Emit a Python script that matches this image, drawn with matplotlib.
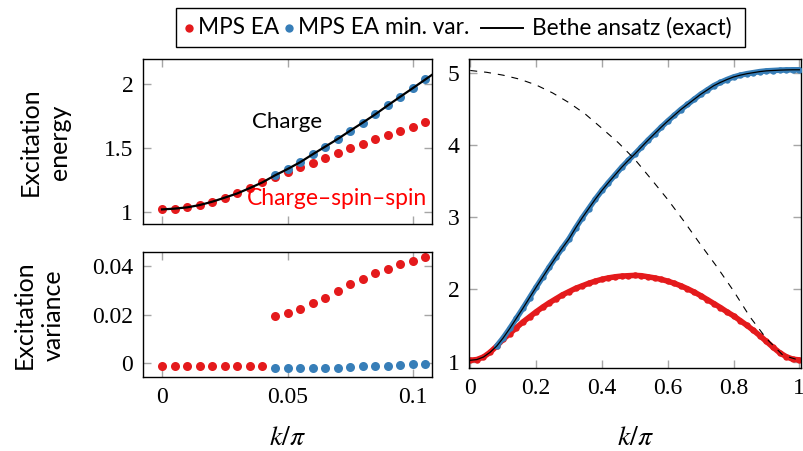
import matplotlib
matplotlib.use('Agg')
from matplotlib import pyplot as plt
from matplotlib.lines import Line2D
from matplotlib.patches import Rectangle

plt.rcParams['font.family'] = ['Lato', 'DejaVu Sans']
plt.rcParams['mathtext.fontset'] = 'stix'
plt.rcParams['lines.scale_dashes'] = False

RED = '#e41a1c'
BLUE = '#377eb8'
TICK_FONT = 'Liberation Serif'

# ---- zoomed panels (left), k/pi = 0 ... 0.105 in steps of 0.005
k_zoom = [0.000, 0.005, 0.010, 0.015, 0.020, 0.025, 0.030, 0.035, 0.040, 0.045, 0.050,
          0.055, 0.060, 0.065, 0.070, 0.075, 0.080, 0.085, 0.090, 0.095, 0.100, 0.105]
k_zoom_minvar = [0.045, 0.050, 0.055, 0.060, 0.065, 0.070, 0.075, 0.080, 0.085,
                 0.090, 0.095, 0.100, 0.105]
energy_ea = [1.023, 1.029, 1.039, 1.057, 1.083, 1.115, 1.148, 1.190, 1.234, 1.276, 1.313,
             1.352, 1.388, 1.422, 1.461, 1.500, 1.534, 1.570, 1.604, 1.638, 1.669, 1.703]
energy_minvar = [1.289, 1.338, 1.391, 1.453, 1.513, 1.573, 1.638, 1.701, 1.766,
                 1.836, 1.904, 1.971, 2.039]
k_bethe_zoom = [0.000, 0.005, 0.010, 0.015, 0.020, 0.025, 0.030, 0.035, 0.040, 0.045,
                0.050, 0.055, 0.060, 0.065, 0.070, 0.075, 0.080, 0.085, 0.090, 0.095,
                0.100, 0.105, 0.110]
bethe_zoom = [1.023, 1.029, 1.039, 1.057, 1.083, 1.115, 1.148, 1.190, 1.234, 1.289,
              1.338, 1.391, 1.453, 1.513, 1.573, 1.638, 1.701, 1.766, 1.836, 1.904,
              1.971, 2.039, 2.107]
# variance: EA points for all k, min. var. points only where it was used
var_ea = [-0.0012, -0.0012, -0.0012, -0.0012, -0.0012, -0.0012, -0.0012, -0.0012, -0.0012,
          0.0194, 0.0206, 0.0223, 0.0246, 0.0269, 0.0297, 0.0325, 0.0348, 0.0370,
          0.0388, 0.0407, 0.0422, 0.0436]
var_minvar = [-0.0019, -0.0019, -0.0018, -0.0018, -0.0018, -0.0018, -0.0014, -0.0012,
              -0.0011, -0.0010, -0.0007, -0.0005, -0.0003]

# ---- full Brillouin zone (right), k/pi = 0 ... 1 in steps of 0.02
k_full = [0.00, 0.02, 0.04, 0.06, 0.08, 0.10, 0.12, 0.14, 0.16, 0.18, 0.20, 0.22, 0.24,
          0.26, 0.28, 0.30, 0.32, 0.34, 0.36, 0.38, 0.40, 0.42, 0.44, 0.46, 0.48, 0.50,
          0.52, 0.54, 0.56, 0.58, 0.60, 0.62, 0.64, 0.66, 0.68, 0.70, 0.72, 0.74, 0.76,
          0.78, 0.80, 0.82, 0.84, 0.86, 0.88, 0.90, 0.92, 0.94, 0.96, 0.98, 1.00]
charge = [1.020, 1.030, 1.065, 1.130, 1.215, 1.330, 1.460, 1.600, 1.740, 1.885, 2.030,
          2.170, 2.310, 2.445, 2.575, 2.700, 2.850, 2.990, 3.120, 3.250, 3.370, 3.480,
          3.585, 3.690, 3.785, 3.875, 3.970, 4.065, 4.155, 4.245, 4.330, 4.410, 4.490,
          4.560, 4.630, 4.700, 4.760, 4.820, 4.865, 4.905, 4.940, 4.965, 4.985, 5.000,
          5.015, 5.025, 5.030, 5.035, 5.038, 5.040, 5.040]
charge_spin_spin = [1.020, 1.030, 1.065, 1.130, 1.215, 1.310, 1.390, 1.470, 1.550, 1.620,
                    1.690, 1.755, 1.815, 1.870, 1.925, 1.970, 2.015, 2.050, 2.085, 2.115,
                    2.140, 2.160, 2.175, 2.185, 2.190, 2.195, 2.190, 2.175, 2.160, 2.140,
                    2.115, 2.085, 2.050, 2.010, 1.965, 1.915, 1.860, 1.805, 1.750, 1.690,
                    1.635, 1.570, 1.505, 1.435, 1.360, 1.280, 1.200, 1.125, 1.070, 1.035,
                    1.025]
k_dashed = [0.00, 0.05, 0.10, 0.15, 0.20, 0.25, 0.30, 0.35, 0.40, 0.45, 0.50,
            0.55, 0.60, 0.65, 0.70, 0.75, 0.80, 0.85, 0.90, 0.95, 1.00]
dashed = [5.030, 5.005, 4.965, 4.910, 4.830, 4.720, 4.585, 4.425, 4.230, 4.030, 3.800,
          3.525, 3.245, 2.940, 2.620, 2.310, 1.980, 1.620, 1.320, 1.090, 1.020]
minvar_start = 4   # min. var. points start at k/pi = 0.08

legend_labels = ['MPS EA', 'MPS EA min. var.', 'Bethe ansatz (exact)']


def style(ax):
    ax.tick_params(direction='in', length=6, width=1, color='0.65',
                   top=True, right=True, labelsize=17, pad=7)
    for lab in ax.get_xticklabels() + ax.get_yticklabels():
        lab.set_fontfamily(TICK_FONT)
    for s in ax.spines.values():
        s.set_linewidth(1.0)


fig = plt.figure(figsize=(8.04, 4.51), dpi=100)
W, H = 804.0, 451.0

ax1 = fig.add_axes([143 / W, 1 - 224 / H, 289 / W, 165 / H])
ax2 = fig.add_axes([143 / W, 1 - 377 / H, 289 / W, 125 / H])
ax3 = fig.add_axes([469.3 / W, 1 - 368.3 / H, 331.7 / W, 309 / H])

# excitation energy, zoom
ax1.plot(k_zoom, energy_ea, 'o', color=RED, ms=6.5, mec='none', zorder=2)
ax1.plot(k_zoom_minvar, energy_minvar, 'o', color=BLUE, ms=6.5, mec='none', zorder=3)
ax1.plot(k_bethe_zoom, bethe_zoom, '-', color='black', lw=1.6, zorder=4)
ax1.text(0.0497, 1.708, 'Charge', fontsize=16, ha='center', va='center')
ax1.text(0.0697, 1.112, 'Charge–spin–spin', fontsize=16.5, color='red',
         ha='center', va='center')
ax1.set_xlim(-0.0076, 0.1076)
ax1.set_ylim(0.909, 2.198)
ax1.set_xticks([0, 0.05, 0.1])
ax1.set_xticklabels([])
ax1.set_yticks([1, 1.5, 2])
ax1.set_yticklabels(['1', '1.5', '2'])
style(ax1)

# excitation variance
ax2.plot(k_zoom, var_ea, 'o', color=RED, ms=6.5, mec='none', zorder=2)
ax2.plot(k_zoom_minvar, var_minvar, 'o', color=BLUE, ms=6.5, mec='none', zorder=3)
ax2.set_xlim(-0.0076, 0.1076)
ax2.set_ylim(-0.00565, 0.0457)
ax2.set_xticks([0, 0.05, 0.1])
ax2.set_xticklabels(['0', '0.05', '0.1'])
ax2.set_yticks([0, 0.02, 0.04])
ax2.set_yticklabels(['0', '0.02', '0.04'])
style(ax2)

# full range: dense point sets drawn as a band of markers
ax3.plot(k_full, charge_spin_spin, 'o-', color=RED, ms=4.6, lw=4.0, mec='none',
         solid_capstyle='round', zorder=2)
ax3.plot(k_full[minvar_start:], charge[minvar_start:], 'o-', color=BLUE, ms=4.6, lw=4.0,
         mec='none', solid_capstyle='round', zorder=3)
ax3.plot(k_full, charge, '-', color='black', lw=0.9, zorder=4)
ax3.plot(k_dashed, dashed, color='black', lw=0.8, dashes=(5, 5), zorder=4)
ax3.set_xlim(-0.003, 1.005)
ax3.set_ylim(0.909, 5.185)
ax3.set_xticks([0, 0.2, 0.4, 0.6, 0.8, 1])
ax3.set_xticklabels(['0', '0.2', '0.4', '0.6', '0.8', '1'])
ax3.set_yticks([1, 2, 3, 4, 5])
ax3.set_yticklabels(['1', '2', '3', '4', '5'])
style(ax3)

# axis labels
fig.text(287 / W, 1 - 437 / H, r'$k/\pi$', fontsize=20, ha='center', va='center')
fig.text(635 / W, 1 - 437 / H, r'$k/\pi$', fontsize=20, ha='center', va='center')
fig.text(45 / W, 1 - 142 / H, 'Excitation\nenergy', fontsize=18, rotation=90,
         ha='center', va='center', linespacing=1.3)
fig.text(39 / W, 1 - 315 / H, 'Excitation\nvariance', fontsize=18, rotation=90,
         ha='center', va='center', linespacing=1.3)

# legend box drawn by hand (compact pgfplots-style legend)
ly = 1 - 28 / H
fig.patches.append(Rectangle((176 / W, 1 - 47 / H), 569 / W, 39 / H, transform=fig.transFigure,
                             facecolor='white', edgecolor='black', lw=1.0))
fig.lines.append(Line2D([189 / W], [ly], transform=fig.transFigure, ls='none', marker='o',
                        color=RED, ms=6, mec='none'))
fig.lines.append(Line2D([289 / W], [ly], transform=fig.transFigure, ls='none', marker='o',
                        color=BLUE, ms=6, mec='none'))
fig.lines.append(Line2D([481 / W, 523 / W], [ly, ly], transform=fig.transFigure,
                        color='black', lw=1.4))
fig.text(198 / W, ly, legend_labels[0], fontsize=16.3, ha='left', va='center')
fig.text(298 / W, ly, legend_labels[1], fontsize=16.3, ha='left', va='center')
fig.text(532 / W, ly, legend_labels[2], fontsize=16.3, ha='left', va='center')

fig.savefig('out.png', dpi=100)
